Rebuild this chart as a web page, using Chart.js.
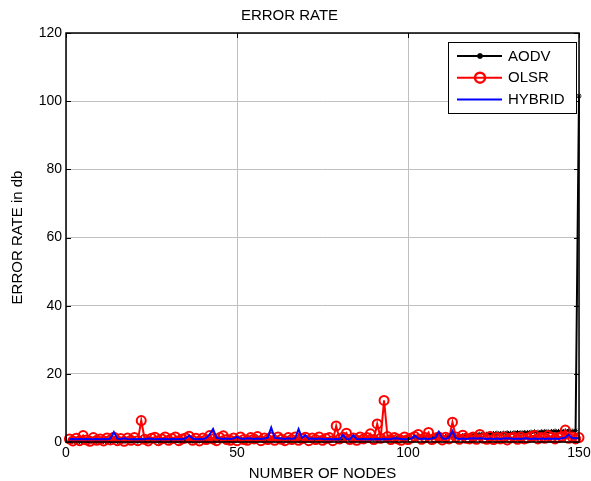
<!DOCTYPE html>
<html>
<head>
<meta charset="utf-8">
<title>ERROR RATE</title>
<script src="https://cdn.jsdelivr.net/npm/chart.js@4.4.1/dist/chart.umd.min.js"></script>
<style>
  body { margin: 0; background: #fff; }
</style>
</head>
<body>
<canvas id="errorChart" width="591" height="481"></canvas>
<script>
const nodes = [
  1, 2, 3, 4, 5, 6, 7, 8, 9, 10, 11, 12, 13, 14, 15, 16, 17, 18, 19, 20,
  21, 22, 23, 24, 25, 26, 27, 28, 29, 30, 31, 32, 33, 34, 35, 36, 37, 38, 39, 40,
  41, 42, 43, 44, 45, 46, 47, 48, 49, 50, 51, 52, 53, 54, 55, 56, 57, 58, 59, 60,
  61, 62, 63, 64, 65, 66, 67, 68, 69, 70, 71, 72, 73, 74, 75, 76, 77, 78, 79, 80,
  81, 82, 83, 84, 85, 86, 87, 88, 89, 90, 91, 92, 93, 94, 95, 96, 97, 98, 99, 100,
  101, 102, 103, 104, 105, 106, 107, 108, 109, 110, 111, 112, 113, 114, 115, 116, 117, 118, 119, 120,
  121, 122, 123, 124, 125, 126, 127, 128, 129, 130, 131, 132, 133, 134, 135, 136, 137, 138, 139, 140,
  141, 142, 143, 144, 145, 146, 147, 148, 149, 150
];

const aodv = [
  0.0, 0.1, 0.0, 0.1, 0.0, 0.1, 0.1, 0.0, 0.1, 0.2, 0.1, 0.0, 0.1, 0.2, 0.1, 0.1, 0.2, 0.1, 0.2, 0.1,
  0.2, 0.2, 0.1, 0.2, 0.3, 0.2, 0.2, 0.3, 0.2, 0.3, 0.3, 0.2, 0.3, 0.3, 0.4, 0.3, 0.3, 0.4, 0.3, 0.4,
  0.4, 0.3, 0.4, 0.5, 0.4, 0.4, 0.5, 0.4, 0.5, 0.5, 0.4, 0.5, 0.5, 0.6, 0.5, 0.5, 0.6, 0.5, 0.6, 0.6,
  0.6, 0.5, 0.6, 0.7, 0.6, 0.6, 0.7, 0.6, 0.7, 0.7, 0.6, 0.7, 0.8, 0.7, 0.7, 0.8, 0.7, 0.8, 0.8, 0.7,
  0.8, 0.9, 0.8, 0.8, 0.9, 0.8, 0.9, 0.9, 0.8, 0.9, 1.0, 0.9, 1.0, 1.1, 1.0, 1.1, 1.2, 1.1, 1.2, 1.3,
  1.2, 1.3, 1.4, 1.3, 1.4, 1.5, 1.4, 1.5, 1.6, 1.5, 1.6, 1.7, 1.8, 1.7, 1.8, 1.9, 2.0, 1.9, 2.1, 2.2,
  2.3, 2.4, 2.3, 2.4, 2.5, 2.6, 2.5, 2.6, 2.7, 2.6, 2.7, 2.8, 2.7, 2.8, 2.8, 2.9, 3.0, 2.9, 3.0, 3.1,
  3.0, 3.1, 3.2, 3.1, 3.2, 3.2, 3.3, 3.2, 3.3, 101.5
];

const olsr = [
  0.9, 0.3, 1.1, 0.4, 1.9, 0.6, 0.2, 1.3, 0.5, 0.9, 0.3, 1.2, 0.6, 1.4, 0.4, 1.0, 0.2, 1.2, 0.5, 1.3,
  0.4, 6.3, 0.8, 0.3, 1.1, 1.4, 0.4, 0.9, 1.5, 0.5, 1.0, 1.5, 0.4, 0.9, 1.2, 1.7, 0.5, 1.1, 0.3, 1.2,
  0.7, 1.9, 0.9, 0.4, 1.3, 1.8, 0.7, 0.5, 1.2, 0.4, 1.5, 0.7, 0.5, 1.3, 0.9, 1.6, 0.4, 1.2, 0.7, 1.4,
  0.5, 1.5, 0.8, 0.4, 1.3, 0.7, 1.5, 0.5, 1.0, 1.4, 0.4, 1.2, 0.7, 1.5, 0.5, 1.0, 1.3, 0.4, 4.7, 0.9,
  1.4, 2.6, 0.7, 1.2, 0.5, 1.5, 0.9, 1.3, 2.4, 0.7, 5.3, 1.1, 12.2, 1.6, 0.7, 1.3, 0.9, 0.5, 1.5, 0.7,
  1.2, 1.6, 2.2, 0.8, 1.3, 2.8, 0.7, 1.2, 1.5, 0.6, 1.4, 0.9, 5.8, 1.5, 0.8, 2.0, 1.1, 0.9, 1.5, 0.8,
  2.2, 1.1, 0.8, 1.6, 0.7, 1.3, 0.9, 1.5, 0.6, 1.2, 1.4, 0.8, 1.5, 0.9, 1.2, 1.6, 1.9, 0.9, 1.3, 1.1,
  1.9, 1.4, 0.9, 1.3, 1.6, 3.5, 1.1, 1.5, 0.9, 1.3
];

const hybrid = [
  0.8, 0.9, 0.8, 0.9, 0.8, 0.9, 0.8, 0.8, 0.9, 0.8, 0.9, 0.8, 1.0, 2.9, 1.0, 0.8, 1.1, 0.9, 0.8, 0.9,
  0.8, 0.9, 0.8, 1.0, 0.9, 0.8, 0.9, 0.8, 0.9, 0.8, 0.9, 0.8, 0.9, 0.8, 1.1, 1.9, 1.0, 0.8, 0.9, 0.8,
  1.2, 2.2, 3.8, 1.3, 1.0, 0.9, 1.0, 0.9, 1.0, 1.5, 1.0, 0.9, 1.1, 1.0, 0.9, 1.0, 0.9, 1.0, 1.3, 4.2,
  1.2, 1.1, 1.0, 0.9, 1.1, 0.9, 1.1, 3.8, 1.2, 2.0, 0.9, 1.0, 0.9, 1.0, 0.9, 0.8, 0.9, 0.8, 0.9, 0.8,
  2.1, 0.9, 0.8, 2.0, 0.9, 0.8, 0.9, 0.8, 0.9, 0.8, 0.9, 0.8, 0.9, 0.8, 0.9, 1.1, 1.0, 0.9, 0.8, 0.9,
  1.0, 1.8, 1.0, 0.9, 1.0, 0.9, 1.0, 1.3, 3.0, 1.1, 0.9, 1.3, 3.2, 1.1, 0.9, 1.0, 0.9, 1.0, 1.1, 1.0,
  1.1, 1.0, 0.9, 1.0, 0.9, 1.0, 0.9, 1.0, 1.1, 1.0, 0.9, 1.0, 0.9, 1.1, 1.0, 0.9, 1.0, 0.9, 1.0, 0.9,
  1.0, 0.9, 1.0, 0.9, 1.1, 1.3, 2.1, 1.1, 1.2, 1.0
];

const xTicks = [0, 50, 100, 150];
const yTicks = [0, 20, 40, 60, 80, 100, 120];

const FONT = "'Liberation Sans', Arial, sans-serif";

// matlab style box + inward tick marks
const axesBox = {
  id: "axesBox",
  afterDatasetsDraw(chart) {
    const { ctx, chartArea: a, scales } = chart;
    ctx.save();
    ctx.strokeStyle = "#000";
    ctx.lineWidth = 1;
    ctx.beginPath();
    xTicks.forEach(function (v) {
      const px = Math.round(scales.x.getPixelForValue(v)) + 0.5;
      ctx.moveTo(px, a.bottom); ctx.lineTo(px, a.bottom - 5);
      ctx.moveTo(px, a.top); ctx.lineTo(px, a.top + 5);
    });
    yTicks.forEach(function (v) {
      const py = Math.round(scales.y.getPixelForValue(v)) + 0.5;
      ctx.moveTo(a.left, py); ctx.lineTo(a.left + 5, py);
      ctx.moveTo(a.right, py); ctx.lineTo(a.right - 5, py);
    });
    ctx.stroke();
    ctx.lineWidth = 1.5;
    ctx.strokeRect(a.left, a.top, a.right - a.left, a.bottom - a.top);
    ctx.restore();
  },
};

function drawMarker(ctx, style, x, y, r) {
  ctx.beginPath();
  if (style === "circle") {
    ctx.arc(x, y, r, 0, Math.PI * 2);
  } else if (style === "star") {
    for (let i = 0; i < 4; i++) {
      const ang = (i * Math.PI) / 4;
      ctx.moveTo(x - Math.cos(ang) * r, y - Math.sin(ang) * r);
      ctx.lineTo(x + Math.cos(ang) * r, y + Math.sin(ang) * r);
    }
  }
  ctx.stroke();
}

// legend box inside the plot, top right
const insideLegend = {
  id: "insideLegend",
  afterDraw(chart) {
    const ctx = chart.ctx;
    const bx = 448, by = 42, bw = 128, bh = 71;
    ctx.save();
    ctx.fillStyle = "#fff";
    ctx.fillRect(bx, by, bw, bh);
    ctx.strokeStyle = "#000";
    ctx.lineWidth = 1;
    ctx.strokeRect(bx + 0.5, by + 0.5, bw, bh);
    ctx.font = "15px " + FONT;
    ctx.textBaseline = "middle";
    ctx.textAlign = "left";
    chart.data.datasets.forEach(function (ds, i) {
      const y = 56 + i * 21.7;
      ctx.strokeStyle = ds.borderColor;
      ctx.lineWidth = ds.borderWidth;
      ctx.beginPath();
      ctx.moveTo(457, y);
      ctx.lineTo(502, y);
      ctx.stroke();
      if (ds.pointRadius > 0) {
        ctx.lineWidth = ds.pointBorderWidth + 0.5;
        drawMarker(ctx, ds.pointStyle, 480, y, ds.pointRadius + 0.5);
      }
      ctx.fillStyle = "#000";
      ctx.fillText(ds.label, 508, y + 0.5);
    });
    ctx.restore();
  },
};

new Chart(document.getElementById("errorChart").getContext("2d"), {
  type: "line",
  data: {
    labels: nodes,
    datasets: [
      {
        label: "AODV",
        data: aodv,
        borderColor: "#000000",
        borderWidth: 2,
        pointStyle: "star",
        pointRadius: 2.5,
        pointBorderWidth: 1,
        pointBorderColor: "#000000",
        pointBackgroundColor: "#000000",
        tension: 0,
        clip: false,
        order: 3,
      },
      {
        label: "OLSR",
        data: olsr,
        borderColor: "#ff0000",
        borderWidth: 2,
        pointStyle: "circle",
        pointRadius: 4.5,
        pointBorderWidth: 2,
        pointBorderColor: "#ff0000",
        pointBackgroundColor: "rgba(0,0,0,0)",
        tension: 0,
        clip: false,
        order: 2,
      },
      {
        label: "HYBRID",
        data: hybrid,
        borderColor: "#0000ff",
        borderWidth: 2,
        pointRadius: 0,
        tension: 0,
        clip: false,
        order: 1,
      },
    ],
  },
  options: {
    responsive: false,
    animation: false,
    events: [],
    layout: { padding: { left: 0, right: 12, top: 0, bottom: 0 } },
    plugins: {
      legend: { display: false },
      tooltip: { enabled: false },
      title: {
        display: true,
        text: "ERROR RATE",
        color: "#000",
        font: { family: FONT, size: 15, weight: "normal", lineHeight: 1.2 },
        padding: { top: 7, bottom: 8 },
      },
    },
    scales: {
      x: {
        type: "linear",
        min: 0,
        max: 150,
        afterBuildTicks: function (s) { s.ticks = xTicks.map(function (v) { return { value: v }; }); },
        afterFit: function (s) { s.height = 39; s.paddingLeft = 0; s.paddingRight = 0; },
        grid: { color: "#c0c0c0", lineWidth: 1, drawTicks: false },
        border: { display: false },
        ticks: { color: "#000", padding: 3, maxRotation: 0, font: { family: FONT, size: 14 } },
        title: {
          display: true,
          text: "NUMBER OF NODES",
          color: "#000",
          font: { family: FONT, size: 15, lineHeight: 1 },
          padding: { top: 0, bottom: 0 },
        },
      },
      y: {
        min: 0,
        max: 120,
        afterBuildTicks: function (s) { s.ticks = yTicks.map(function (v) { return { value: v }; }); },
        afterFit: function (s) { s.width = 66; s.paddingTop = 0; s.paddingBottom = 0; },
        grid: { color: "#c0c0c0", lineWidth: 1, drawTicks: false },
        border: { display: false },
        ticks: { color: "#000", padding: 4, font: { family: FONT, size: 14 } },
        title: {
          display: true,
          text: "ERROR RATE in db",
          color: "#000",
          font: { family: FONT, size: 15, lineHeight: 1 },
          padding: { top: 10.5, bottom: 0 },
        },
      },
    },
  },
  plugins: [axesBox, insideLegend],
});
</script>
</body>
</html>
